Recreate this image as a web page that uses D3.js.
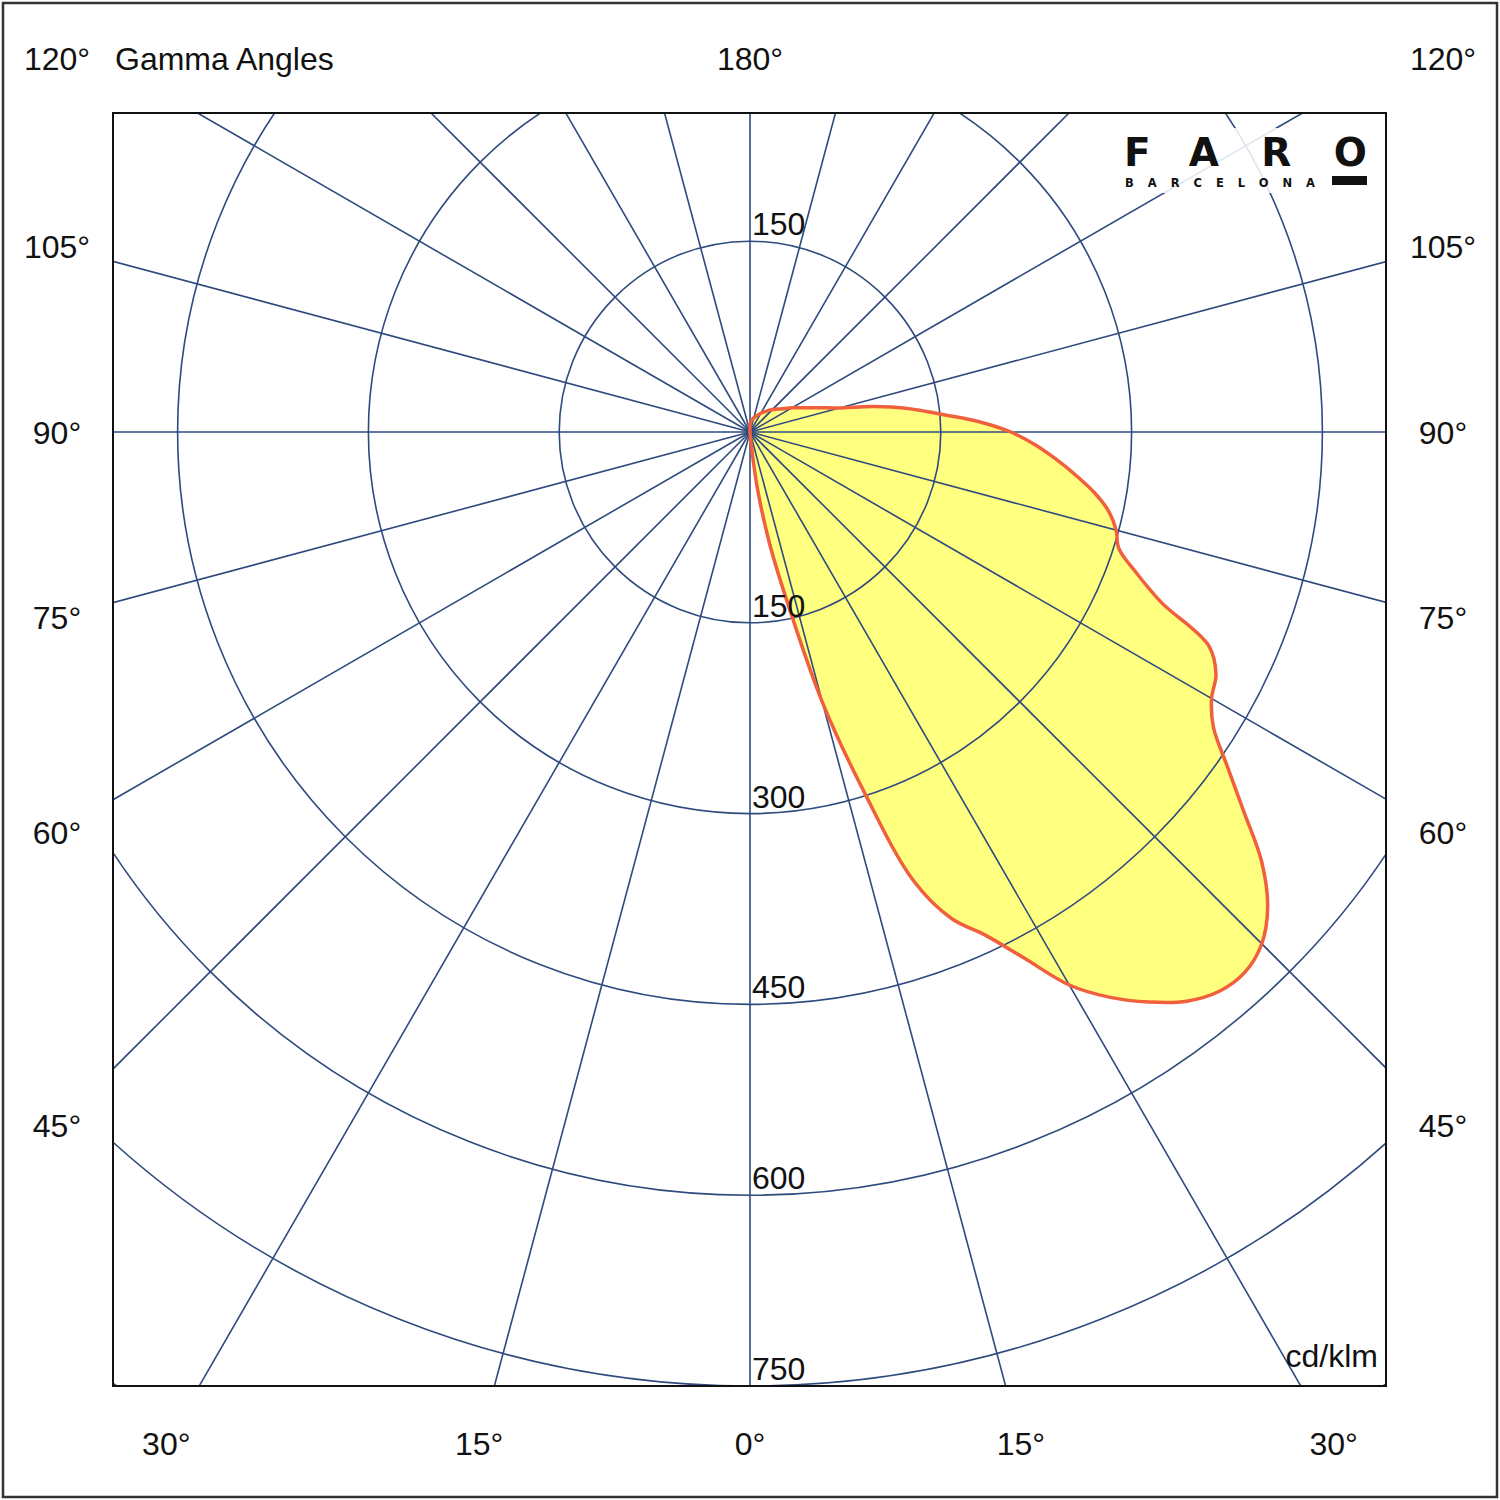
<!DOCTYPE html>
<html lang="en">
<head>
    <meta charset="UTF-8">
    <title>Polar light distribution</title>
    <script src="https://d3js.org/d3.v7.min.js"></script>
    <style>
        body { margin: 0; background: #fff; }
        text { font-family: "Liberation Sans", Arial, sans-serif; font-size: 32px; fill: #111; }
        .grid { fill: none; stroke: #2f4a7e; stroke-width: 1.6; }
        .frame { fill: none; stroke: #111; stroke-width: 2; }
        .border { fill: none; stroke: #333; stroke-width: 2.5; }
        .curve-fill { fill: #ffff80; stroke: none; }
        .curve-line { fill: none; stroke: #f0603c; stroke-width: 3.5; stroke-linejoin: round; }
    </style>
</head>
<body>
    <svg width="1500" height="1500"></svg>
    <script>
        // gamma angle (deg from nadir) and luminous intensity (cd/klm)
        const gammaAngles = [0, 2.5, 5, 7.5, 10, 12.5, 15, 17.5, 20, 22.5, 25, 27.5, 30, 32.5, 35, 37.5,
            40, 42.5, 45, 47.5, 50, 52.5, 55, 57.5, 60, 62.5, 65, 67.5, 70, 72.5, 75, 77.5, 80, 82.5,
            85, 87.5, 90, 92.5, 95, 97.5, 100, 102.5, 105, 110, 115, 120, 125, 130, 135, 140, 150, 160, 170, 180];
        const intensity = [0, 2, 8, 45, 90, 140, 220, 294, 375, 414, 436, 466, 502, 527, 547, 564,
            574, 576, 569, 552, 525, 489, 458, 432, 419, 413, 398, 350, 323, 304, 298, 289, 275, 258,
            241, 224, 205, 181, 154, 133, 113, 92, 73, 56, 45, 38, 32, 28, 25, 22, 17, 13, 10, 6];

        const ringValues = [150, 300, 450, 600, 750, 900];
        const spokeAngles = d3.range(0, 360, 15);
        const sideLabels = [45, 60, 75, 90, 105, 120];
        const bottomLabels = [-30, -15, 0, 15, 30];
        const topLabels = [180];
        const unitLabel = "cd/klm";
        const titleLabel = "Gamma Angles";

        const svg = d3.select("svg");
        const frame = {x0: 113, y0: 113, x1: 1386, y1: 1386};
        const cx = 750, cy = 432;

        const r = d3.scaleLinear().domain([0, 750]).range([0, 954]);
        const rad = d => d * Math.PI / 180;

        svg.append("rect").attr("class", "border")
            .attr("x", 3).attr("y", 3).attr("width", 1494).attr("height", 1494);

        svg.append("defs").append("clipPath").attr("id", "plotclip")
            .append("rect")
            .attr("x", frame.x0).attr("y", frame.y0)
            .attr("width", frame.x1 - frame.x0).attr("height", frame.y1 - frame.y0);

        const plot = svg.append("g").attr("clip-path", "url(#plotclip)");
        const g = plot.append("g").attr("transform", `translate(${cx},${cy})`);

        // gamma measured from straight down, towards the right
        const line = d3.lineRadial()
            .angle((d, i) => Math.PI - rad(gammaAngles[i]))
            .radius(d => r(d))
            .curve(d3.curveCatmullRom.alpha(0.5));

        const pathD = line(intensity) + "L0,0Z";

        g.append("path").attr("class", "curve-fill").attr("d", pathD);

        // grid
        g.selectAll("circle.ring").data(ringValues).join("circle")
            .attr("class", "grid ring").attr("r", d => r(d));

        g.selectAll("line.spoke").data(spokeAngles).join("line")
            .attr("class", "grid spoke")
            .attr("x1", 0).attr("y1", 0)
            .attr("x2", d => 2000 * Math.sin(rad(d)))
            .attr("y2", d => 2000 * Math.cos(rad(d)));

        g.append("path").attr("class", "curve-line").attr("d", pathD);

        // ring value labels along the vertical axis
        ringValues.forEach(v => {
            [1, -1].forEach(s => {
                const y = cy + s * r(v);
                if (y - 30 < frame.y0 || y > frame.y1 + 1) return;
                svg.append("text").attr("x", cx + 2).attr("y", y - 6).text(v);
            });
        });

        svg.append("rect").attr("class", "frame")
            .attr("x", frame.x0).attr("y", frame.y0)
            .attr("width", frame.x1 - frame.x0).attr("height", frame.y1 - frame.y0);

        // angle labels round the frame
        const lab = {left: 57, right: 1443, top: 58, bottom: 1443};
        const addLabel = (x, y, t) => svg.append("text")
            .attr("x", x).attr("y", y + 11.5).attr("text-anchor", "middle").text(t);

        sideLabels.forEach(a => {
            const y = Math.max(lab.top, cy + (lab.left - cx) * -1 / Math.tan(rad(a)));
            addLabel(lab.left, y, a + "°");
            addLabel(lab.right, y, a + "°");
        });
        bottomLabels.forEach(a => {
            addLabel(cx + (lab.bottom - cy) * Math.tan(rad(a)), lab.bottom, Math.abs(a) + "°");
        });
        topLabels.forEach(a => addLabel(cx, lab.top, a + "°"));

        svg.append("text").attr("x", 115).attr("y", 69.5).text(titleLabel);
        svg.append("text").attr("x", 1378).attr("y", 1367)
            .attr("text-anchor", "end").text(unitLabel);

        // logo
        const logo = svg.append("g");
        logo.append("rect").attr("x", 1118).attr("y", 128).attr("width", 258).attr("height", 65)
            .attr("fill", "#fff").attr("opacity", 0.85);
        logo.append("text").attr("x", 1124).attr("y", 165.5)
            .attr("textLength", 243).attr("lengthAdjust", "spacing")
            .style("font-family", "'DejaVu Sans', sans-serif").style("font-weight", "bold")
            .style("font-size", "39px").text("FARO");
        logo.append("text").attr("x", 1125).attr("y", 186.5)
            .attr("textLength", 190).attr("lengthAdjust", "spacing")
            .style("font-family", "'DejaVu Sans', sans-serif").style("font-weight", "bold")
            .style("font-size", "11.5px").text("BARCELONA");
        logo.append("rect").attr("x", 1332).attr("y", 176).attr("width", 35).attr("height", 9)
            .attr("fill", "#111");
    </script>
</body>
</html>
